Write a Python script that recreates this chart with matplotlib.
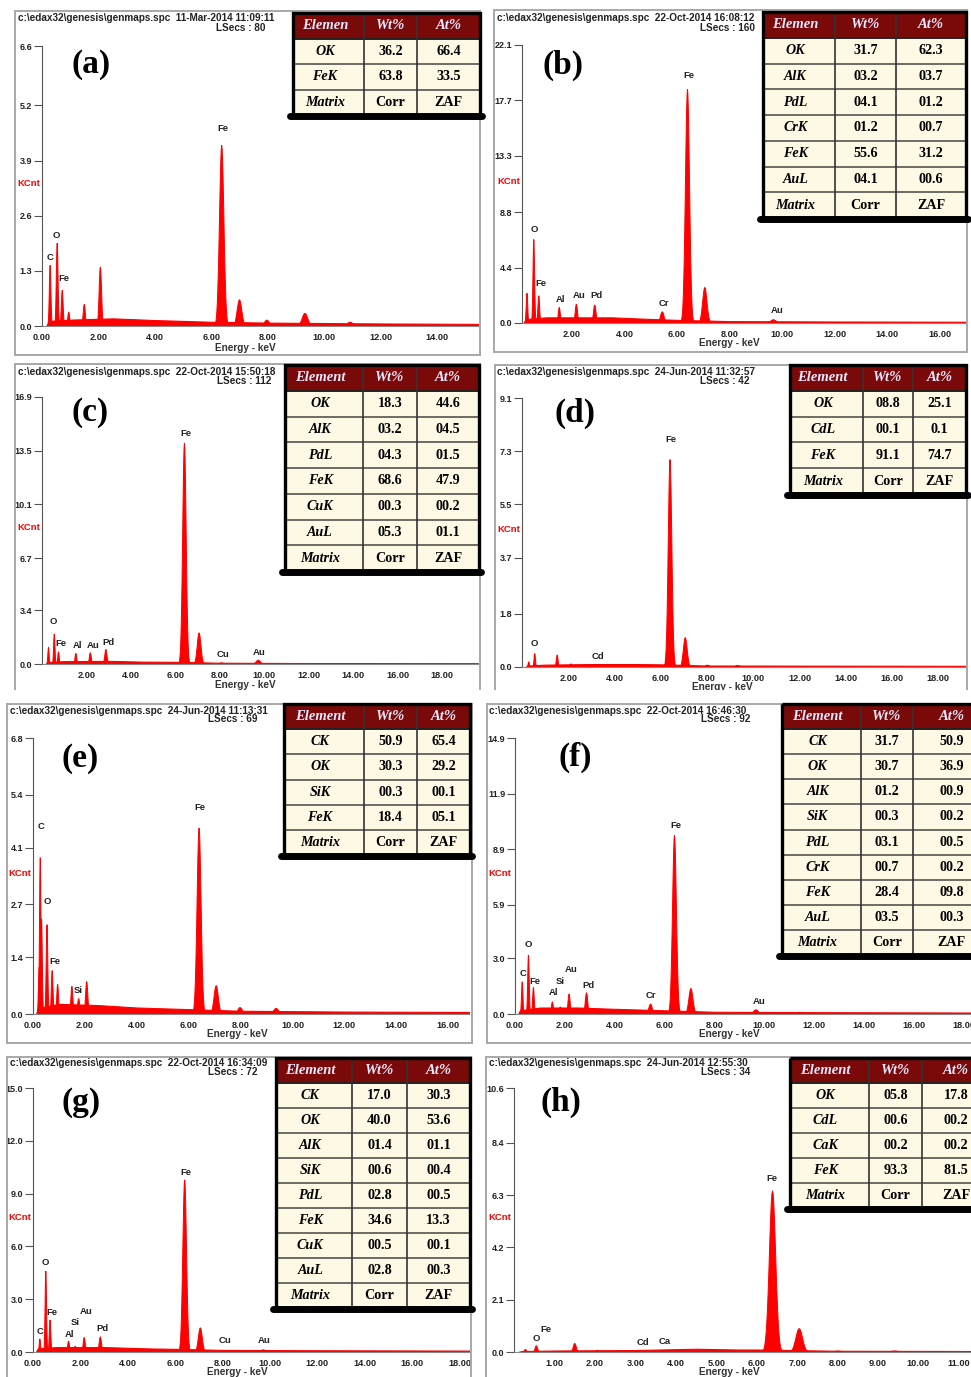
import matplotlib
matplotlib.use('Agg')
import matplotlib.pyplot as plt
import numpy as np
from matplotlib.patches import Rectangle

W, H = 971, 1377
RED = '#ff0000'
SANS = 'Liberation Sans'
SERIF = 'Liberation Serif'
HEAD = 'c:\\edax32\\genesis\\genmaps.spc  '

# ---------------- data ----------------
# peaks: (energy keV, height kCnt); bg: (energy keV, background kCnt)
peaks_a = [(0.27, 1.44), (0.52, 1.96), (0.70, 0.85), (0.93, 0.34), (1.48, 0.52), (2.05, 1.40),
           (6.35, 4.27), (6.98, 0.63), (7.95, 0.15), (9.30, 0.31), (10.9, 0.10)]
bg_a = [(0.15, 0.0), (0.25, 0.12), (1.0, 0.15), (2.5, 0.18), (4.0, 0.14), (6.0, 0.10),
        (8.0, 0.08), (10.0, 0.07), (12.0, 0.06), (15.5, 0.05)]
peaks_b = [(0.27, 2.4), (0.53, 6.67), (0.72, 2.2), (1.50, 1.27), (2.15, 1.53), (2.85, 1.46),
           (5.42, 0.93), (6.38, 18.6), (7.04, 2.86), (9.65, 0.30)]
bg_b = [(0.15, 0.0), (0.25, 0.3), (1.0, 0.45), (2.0, 0.45), (3.5, 0.45), (5.0, 0.32),
        (6.0, 0.25), (8.0, 0.15), (12.0, 0.12), (17.0, 0.10)]
peaks_c = [(0.27, 1.08), (0.53, 1.92), (0.72, 0.80), (1.50, 0.70), (2.15, 0.74), (2.85, 0.95),
           (6.38, 14.0), (7.04, 2.0), (8.05, 0.10), (9.70, 0.27)]
bg_c = [(0.15, 0.0), (0.25, 0.12), (1.0, 0.18), (3.0, 0.20), (4.5, 0.15), (6.0, 0.14),
        (8.0, 0.08), (12.0, 0.06), (19.6, 0.05)]
peaks_d = [(0.27, 0.19), (0.53, 0.47), (1.50, 0.42), (2.10, 0.12), (6.38, 7.03), (7.04, 1.01),
           (8.0, 0.08), (9.3, 0.07)]
bg_d = [(0.15, 0.0), (0.25, 0.05), (1.0, 0.08), (3.0, 0.10), (5.0, 0.10), (6.0, 0.09),
        (8.0, 0.05), (19.2, 0.04)]
peaks_e = [(0.22, 1.16), (0.26, 3.86), (0.31, 2.35), (0.52, 2.21), (0.72, 1.08), (0.93, 0.74),
           (1.48, 0.69), (1.74, 0.39), (2.05, 0.81), (6.38, 4.59), (7.04, 0.71), (7.96, 0.17),
           (9.35, 0.15)]
bg_e = [(0.12, 0.0), (0.2, 0.15), (1.0, 0.25), (2.5, 0.22), (4.0, 0.16), (6.0, 0.12),
        (8.0, 0.08), (12.0, 0.06), (16.8, 0.05)]
peaks_f = [(0.27, 1.76), (0.52, 3.2), (0.72, 1.45), (1.48, 0.68), (1.80, 0.40), (2.15, 1.10),
           (2.85, 1.17), (5.42, 0.56), (6.38, 9.66), (7.04, 1.40), (9.65, 0.25), (11.4, 0.12)]
bg_f = [(0.12, 0.0), (0.2, 0.2), (1.0, 0.35), (2.5, 0.35), (4.0, 0.28), (6.0, 0.20),
        (8.0, 0.12), (12.0, 0.10), (18.3, 0.08)]
peaks_g = [(0.27, 0.76), (0.52, 4.62), (0.70, 1.84), (1.48, 0.64), (1.76, 0.35), (2.14, 0.85),
           (2.82, 0.89), (6.38, 9.80), (7.04, 1.40), (8.05, 0.12), (9.70, 0.15)]
bg_g = [(0.12, 0.0), (0.2, 0.2), (1.0, 0.28), (3.0, 0.28), (5.0, 0.20), (6.0, 0.18),
        (8.0, 0.12), (12.0, 0.10), (18.4, 0.08)]
peaks_h = [(0.27, 0.12), (0.54, 0.27), (1.49, 0.36), (2.05, 0.08), (6.38, 6.49), (7.04, 0.96),
           (8.0, 0.06), (9.4, 0.06)]
bg_h = [(0.1, 0.0), (0.2, 0.04), (1.0, 0.06), (3.0, 0.08), (4.5, 0.13), (5.5, 0.10),
        (6.0, 0.10), (8.0, 0.05), (11.3, 0.04)]

# element labels on the spectra: (text, energy, kCnt)
labels_a = [('C', 0.27, 1.62), ('O', 0.51, 2.14), ('Fe', 0.79, 1.12), ('Fe', 6.41, 4.66)]
labels_b = [('O', 0.55, 7.4), ('Fe', 0.80, 3.12), ('Al', 1.58, 1.85), ('Au', 2.27, 2.17),
            ('Pd', 2.95, 2.2), ('Cr', 5.49, 1.53), ('Fe', 6.46, 19.7), ('Au', 9.80, 0.98)]
labels_c = [('O', 0.53, 2.66), ('Fe', 0.84, 1.27), ('Al', 1.58, 1.16), ('Au', 2.30, 1.16),
            ('Pd', 2.97, 1.39), ('Fe', 6.47, 14.6), ('Cu', 8.15, 0.63), ('Au', 9.77, 0.74)]
labels_d = [('O', 0.53, 0.78), ('Cd', 3.27, 0.36), ('Fe', 6.44, 7.71)]
labels_e = [('C', 0.32, 4.63), ('O', 0.54, 2.76), ('Fe', 0.84, 1.29), ('Si', 1.76, 0.57),
            ('Fe', 6.43, 5.08)]
labels_f = [('C', 0.33, 2.21), ('O', 0.53, 3.73), ('Fe', 0.80, 1.76), ('Al', 1.55, 1.17),
            ('Si', 1.82, 1.76), ('Au', 2.27, 2.42), ('Pd', 2.94, 1.53), ('Cr', 5.45, 0.99),
            ('Fe', 6.45, 10.2), ('Au', 9.79, 0.68)]
labels_g = [('C', 0.31, 1.14), ('O', 0.52, 5.06), ('Fe', 0.80, 2.22), ('Al', 1.52, 1.02),
            ('Si', 1.79, 1.65), ('Au', 2.26, 2.31), ('Pd', 2.92, 1.31), ('Fe', 6.45, 10.2),
            ('Cu', 8.11, 0.64), ('Au', 9.77, 0.64)]
labels_h = [('O', 0.54, 0.54), ('Fe', 0.79, 0.90), ('Cd', 3.20, 0.40), ('Ca', 3.72, 0.43),
            ('Fe', 6.38, 6.95)]

yticks_a = [0.0, 1.3, 2.6, 3.9, 5.2, 6.6]
yticks_b = [0.0, 4.4, 8.8, 13.3, 17.7, 22.1]
yticks_c = [0.0, 3.4, 6.7, 10.1, 13.5, 16.9]
yticks_d = [0.0, 1.8, 3.7, 5.5, 7.3, 9.1]
yticks_e = [0.0, 1.4, 2.7, 4.1, 5.4, 6.8]
yticks_f = [0.0, 3.0, 5.9, 8.9, 11.9, 14.9]
yticks_g = [0.0, 3.0, 6.0, 9.0, 12.0, 15.0]
yticks_h = [0.0, 2.1, 4.2, 6.3, 8.4, 10.6]

xticks_a = [0, 2, 4, 6, 8, 10, 12, 14]
xticks_b = [2, 4, 6, 8, 10, 12, 14, 16]
xticks_c = [2, 4, 6, 8, 10, 12, 14, 16, 18]
xticks_d = [2, 4, 6, 8, 10, 12, 14, 16, 18]
xticks_e = [0, 2, 4, 6, 8, 10, 12, 14, 16]
xticks_f = [0, 2, 4, 6, 8, 10, 12, 14, 16, 18]
xticks_g = [0, 2, 4, 6, 8, 10, 12, 14, 16, 18]
xticks_h = [1, 2, 3, 4, 5, 6, 7, 8, 9, 10, 11]

stamp_a = ('11-Mar-2014 11:09:11', 'LSecs : 80')
stamp_b = ('22-Oct-2014 16:08:12', 'LSecs : 160')
stamp_c = ('22-Oct-2014 15:50:18', 'LSecs : 112')
stamp_d = ('24-Jun-2014 11:32:57', 'LSecs : 42')
stamp_e = ('24-Jun-2014 11:13:31', 'LSecs : 69')
stamp_f = ('22-Oct-2014 16:46:30', 'LSecs : 92')
stamp_g = ('22-Oct-2014 16:34:09', 'LSecs : 72')
stamp_h = ('24-Jun-2014 12:55:30', 'LSecs : 34')

table_a = [('OK', '36.2', '66.4'), ('FeK', '63.8', '33.5')]
table_b = [('OK', '31.7', '62.3'), ('AlK', '03.2', '03.7'), ('PdL', '04.1', '01.2'),
           ('CrK', '01.2', '00.7'), ('FeK', '55.6', '31.2'), ('AuL', '04.1', '00.6')]
table_c = [('OK', '18.3', '44.6'), ('AlK', '03.2', '04.5'), ('PdL', '04.3', '01.5'),
           ('FeK', '68.6', '47.9'), ('CuK', '00.3', '00.2'), ('AuL', '05.3', '01.1')]
table_d = [('OK', '08.8', '25.1'), ('CdL', '00.1', '0.1'), ('FeK', '91.1', '74.7')]
table_e = [('CK', '50.9', '65.4'), ('OK', '30.3', '29.2'), ('SiK', '00.3', '00.1'),
           ('FeK', '18.4', '05.1')]
table_f = [('CK', '31.7', '50.9'), ('OK', '30.7', '36.9'), ('AlK', '01.2', '00.9'),
           ('SiK', '00.3', '00.2'), ('PdL', '03.1', '00.5'), ('CrK', '00.7', '00.2'),
           ('FeK', '28.4', '09.8'), ('AuL', '03.5', '00.3')]
table_g = [('CK', '17.0', '30.3'), ('OK', '40.0', '53.6'), ('AlK', '01.4', '01.1'),
           ('SiK', '00.6', '00.4'), ('PdL', '02.8', '00.5'), ('FeK', '34.6', '13.3'),
           ('CuK', '00.5', '00.1'), ('AuL', '02.8', '00.3')]
table_h = [('OK', '05.8', '17.8'), ('CdL', '00.6', '00.2'), ('CaK', '00.2', '00.2'),
           ('FeK', '93.3', '81.5')]
matrix_row = ('Matrix', 'Corr', 'ZAF')

# ---------------- layout (pixels in the 971x1377 picture) ----------------
PANELS = [
    dict(tag='(a)', peaks=peaks_a, bg=bg_a, labels=labels_a, yt=yticks_a, xt=xticks_a, stamp=stamp_a,
         table=table_a, head='Elemen',
         frame=(15, 11, 480, 355), sides='ltrb', box=(42, 46, 478, 326), xlim=(0, 15.45),
         tbox=(293, 13, 480, 115), cols=(364, 417), lab=(91, 65), st=(18, 18, 265, 28),
         kc=(17, 183), en=(245, 348)),
    dict(tag='(b)', peaks=peaks_b, bg=bg_b, labels=labels_b, yt=yticks_b, xt=xticks_b, stamp=stamp_b,
         table=table_b, head='Elemen',
         frame=(494, 10, 967, 352), sides='ltrb', box=(522, 45, 966, 323), xlim=(0.1, 17.0),
         tbox=(763, 12, 966, 218), cols=(835, 896), lab=(563, 65), st=(497, 18, 755, 28),
         kc=(497, 182), en=(729, 343)),
    dict(tag='(c)', peaks=peaks_c, bg=bg_c, labels=labels_c, yt=yticks_c, xt=xticks_c, stamp=stamp_c,
         table=table_c, head='Element',
         frame=(15, 364, 480, 689), sides='ltr', box=(42, 397, 478, 664), xlim=(0, 19.6),
         tbox=(285, 365, 479, 571), cols=(363, 417), lab=(90, 412), st=(18, 372, 271, 381),
         kc=(17, 528), en=(245, 685)),
    dict(tag='(d)', peaks=peaks_d, bg=bg_d, labels=labels_d, yt=yticks_d, xt=xticks_d, stamp=stamp_d,
         table=table_d, head='Element',
         frame=(495, 365, 967, 689), sides='ltr', box=(522, 398, 966, 667), xlim=(0, 19.2),
         tbox=(790, 365, 966, 494), cols=(863, 913), lab=(575, 413), st=(497, 372, 749, 381),
         kc=(497, 530), en=(722, 687)),
    dict(tag='(e)', peaks=peaks_e, bg=bg_e, labels=labels_e, yt=yticks_e, xt=xticks_e, stamp=stamp_e,
         table=table_e, head='Element',
         frame=(7, 704, 472, 1043), sides='ltrb', box=(33, 738, 469, 1014), xlim=(0, 16.8),
         tbox=(284, 704, 470, 855), cols=(364, 417), lab=(80, 758), st=(10, 711, 257, 719),
         kc=(8, 873), en=(237, 1034)),
    dict(tag='(f)', peaks=peaks_f, bg=bg_f, labels=labels_f, yt=yticks_f, xt=xticks_f, stamp=stamp_f,
         table=table_f, head='Element',
         frame=(487, 704, 985, 1043), sides='ltb', box=(515, 738, 971, 1014), xlim=(0, 18.3),
         tbox=(782, 704, 990, 955), cols=(861, 913), lab=(575, 757), st=(489, 711, 750, 719),
         kc=(488, 873), en=(729, 1034)),
    dict(tag='(g)', peaks=peaks_g, bg=bg_g, labels=labels_g, yt=yticks_g, xt=xticks_g, stamp=stamp_g,
         table=table_g, head='Element',
         frame=(7, 1057, 471, 1390), sides='ltr', box=(33, 1088, 469, 1352), xlim=(0, 18.4),
         tbox=(276, 1058, 470, 1308), cols=(352, 407), lab=(81, 1102), st=(10, 1063, 257, 1072),
         kc=(8, 1218), en=(237, 1372)),
    dict(tag='(h)', peaks=peaks_h, bg=bg_h, labels=labels_h, yt=yticks_h, xt=xticks_h, stamp=stamp_h,
         table=table_h, head='Element',
         frame=(486, 1057, 985, 1390), sides='lt', box=(514, 1088, 971, 1352), xlim=(0, 11.3),
         tbox=(790, 1058, 990, 1208), cols=(869, 922), lab=(561, 1102), st=(489, 1063, 750, 1072),
         kc=(488, 1218), en=(729, 1372)),
]


def draw_spectrum(ax, p):
    xb = [b[0] for b in p['bg']]
    yb = [b[1] for b in p['bg']]
    ax.fill_between(xb, 0, yb, color=RED, lw=0.8)
    for e, h in p['peaks']:
        s = 0.026 + 0.008 * e
        x = np.linspace(e - 4 * s, e + 4 * s, 41)
        y = h * np.exp(-0.5 * ((x - e) / s) ** 2)
        ax.fill_between(x, 0, y, color=RED, lw=0.7)
    for txt, e, y in p['labels']:
        ax.text(e, y, txt, ha='center', va='center', fontsize=6.8, fontweight='bold',
                family=SANS, color='#222222')
    ax.set_xlim(*p['xlim'])
    ax.set_ylim(0, p['yt'][-1])
    ax.set_yticks(p['yt'], [f'{v:.1f}' for v in p['yt']], fontsize=6.5, fontweight='bold', family=SANS)
    ax.set_xticks(p['xt'], [f'{v:.2f}' for v in p['xt']], fontsize=6.6, fontweight='bold', family=SANS)
    ax.tick_params(axis='y', length=6, width=0.8, pad=1, color='#555555', labelcolor='#222222')
    ax.tick_params(axis='x', length=0, pad=5, labelcolor='#222222')
    for s in ('top', 'right'):
        ax.spines[s].set_visible(False)
    ax.spines['left'].set_color('#555555')
    ax.spines['bottom'].set_color('#888888')
    ax.patch.set_alpha(0)


def draw_table(ov, p):
    x0, y0, x1, y1 = p['tbox']
    rows = [(p['head'], 'Wt%', 'At%')] + p['table'] + [matrix_row]
    n = len(rows)
    rh = (y1 - y0) / n
    xs = [x0, p['cols'][0], p['cols'][1], x1]
    ov.add_patch(Rectangle((x0, y0), x1 - x0, rh, facecolor='#7a0a0a', edgecolor='none', zorder=2))
    ov.add_patch(Rectangle((x0, y0 + rh), x1 - x0, y1 - y0 - rh, facecolor='#fdf9e4',
                           edgecolor='none', zorder=2))
    for k in range(2, n):
        ov.plot([x0, x1], [y0 + k * rh] * 2, color='#444444', lw=1.1, zorder=3)
    ov.plot([x0, x1], [y0 + rh] * 2, color='#222222', lw=1.4, zorder=3)
    for xv in xs[1:-1]:
        ov.plot([xv, xv], [y0, y1], color='#333333', lw=1.2, zorder=3)
    ov.add_patch(Rectangle((x0, y0), x1 - x0, y1 - y0, fill=False, edgecolor='black', lw=2.4, zorder=4))
    ov.plot([x0 - 3, x1 + 2], [y1 + 1, y1 + 1], color='black', lw=5, solid_capstyle='round', zorder=5)
    for i, row in enumerate(rows):
        yc = y0 + (i + 0.5) * rh
        for j, txt in enumerate(row):
            xc = xs[j] + (xs[j + 1] - xs[j]) * (0.45 if j == 0 else 0.5)
            if i == 0:
                ov.text(xc, yc, txt, ha='center', va='center', fontsize=10.5, fontstyle='italic',
                        fontweight='bold', family=SERIF, color='#ece8ff', zorder=6)
            else:
                style = 'italic' if j == 0 else 'normal'
                ov.text(xc, yc, txt, ha='center', va='center', fontsize=10.2, fontstyle=style,
                        fontweight='bold', family=SERIF, color='black', zorder=6)


fig = plt.figure(figsize=(W / 100, H / 100), dpi=100)
fig.patch.set_facecolor('white')

for p in PANELS:
    l, t, r, b = p['box']
    ax = fig.add_axes([l / W, 1 - b / H, (r - l) / W, (b - t) / H])
    draw_spectrum(ax, p)

ov = fig.add_axes([0, 0, 1, 1], zorder=10)
ov.set_xlim(0, W)
ov.set_ylim(H, 0)
ov.axis('off')
ov.patch.set_alpha(0)

for p in PANELS:
    fx0, fy0, fx1, fy1 = p['frame']
    sides = {'l': ([fx0, fx0], [fy0, fy1]), 't': ([fx0, fx1], [fy0, fy0]),
             'r': ([fx1, fx1], [fy0, fy1]), 'b': ([fx0, fx1], [fy1, fy1])}
    for s in p['sides']:
        ov.plot(*sides[s], color='#a8a8a8', lw=1.4, zorder=1)
    sx, sy, lx, ly = p['st']
    ov.text(sx, sy, HEAD + p['stamp'][0], ha='left', va='center', fontsize=7.2, fontweight='bold',
            family=SANS, color='#222222')
    ov.text(lx, ly, p['stamp'][1], ha='right', va='center', fontsize=7.2, fontweight='bold',
            family=SANS, color='#222222')
    ov.text(p['kc'][0], p['kc'][1], 'KCnt', ha='left', va='center', fontsize=6.8, fontweight='bold',
            family=SANS, color=RED)
    ov.text(p['en'][0], p['en'][1], 'Energy - keV', ha='center', va='center', fontsize=7.2,
            fontweight='bold', family=SANS, color='#333333')
    ov.text(p['lab'][0], p['lab'][1], p['tag'], ha='center', va='center', fontsize=24,
            fontweight='bold', family=SERIF, color='black')
    draw_table(ov, p)

# the middle row is cropped just under its axis labels
ov.add_patch(Rectangle((0, 690), W, 12, facecolor='white', edgecolor='none', zorder=20))

fig.savefig('out.png', dpi=100)
